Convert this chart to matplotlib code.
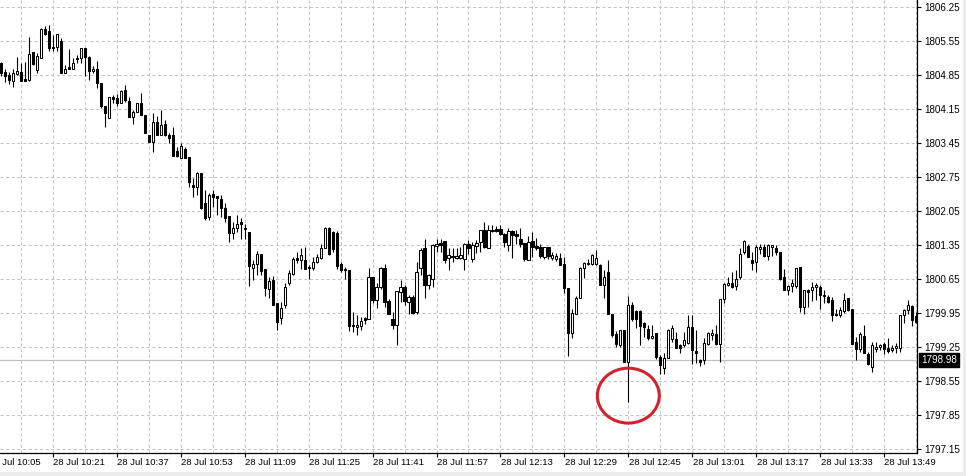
import matplotlib
matplotlib.use("Agg")
import matplotlib.pyplot as plt
from matplotlib.patches import Ellipse, Rectangle
import numpy as np

plt.rcParams['font.family'] = ['Liberation Sans', 'DejaVu Sans']

# ---------------- data (1-minute candles, 28 Jul, starting 10:08) ----------------
start_time = "10:08"

opens = [
    1805.09, 1804.91, 1804.85, 1804.73, 1804.86, 1804.90, 1804.76, 1804.74, 1805.31, 1804.96,
    1805.19, 1805.79, 1805.76, 1805.42, 1805.43, 1805.55, 1804.88, 1805.01, 1804.98, 1805.19,
    1805.19, 1805.40, 1805.22, 1804.93, 1804.98, 1804.68, 1804.21, 1803.96, 1804.40, 1804.38,
    1804.27, 1804.54, 1804.31, 1803.99, 1804.08, 1804.27, 1804.02, 1803.61, 1803.47, 1803.87,
    1803.61, 1803.84, 1803.61, 1803.61, 1803.28, 1803.14, 1803.32, 1803.16, 1802.59, 1802.55,
    1802.83, 1802.22, 1801.93, 1802.40, 1802.36, 1802.29, 1802.12, 1801.94, 1801.59, 1801.69,
    1801.83, 1801.70, 1801.61, 1800.87, 1800.95, 1801.17, 1800.85, 1800.45, 1800.63, 1800.15,
    1799.84, 1800.11, 1800.57, 1800.76, 1801.08, 1801.04, 1801.04, 1800.90, 1800.88, 1800.99,
    1801.08, 1801.28, 1801.70, 1801.62, 1801.60, 1800.95, 1800.86, 1800.83, 1799.71, 1799.67,
    1799.68, 1799.85, 1799.82, 1800.69, 1800.21, 1800.49, 1800.88, 1800.19, 1799.83, 1799.71,
    1800.38, 1800.49, 1800.17, 1800.28, 1799.97, 1800.87, 1801.28, 1800.52, 1800.66, 1801.33,
    1801.39, 1801.43, 1801.08, 1801.13, 1801.08, 1801.08, 1801.07, 1801.38, 1801.06, 1801.33,
    1801.41, 1801.66, 1801.29, 1801.63, 1801.68, 1801.68, 1801.57, 1801.34, 1801.63, 1801.57,
    1801.48, 1801.40, 1801.04, 1801.43, 1801.33, 1801.31, 1801.10, 1801.31, 1801.08, 1801.06,
    1801.09, 1800.95, 1800.47, 1799.53, 1799.94, 1800.25, 1800.88, 1800.97, 1800.95, 1800.95,
    1800.93, 1800.52, 1800.80, 1799.92, 1799.51, 1799.30, 1799.60, 1798.94, 1800.12, 1799.99,
    1799.99, 1799.75, 1799.63, 1799.43, 1799.53, 1799.05, 1798.81, 1799.03, 1799.41, 1799.41,
    1799.29, 1799.29, 1799.34, 1799.66, 1799.17, 1798.99, 1798.98, 1799.32, 1799.49, 1799.51,
    1799.31, 1800.23, 1800.52, 1800.56, 1800.50, 1800.69, 1801.21, 1801.33, 1801.05, 1801.00,
    1801.27, 1801.31, 1801.12, 1801.31, 1801.28, 1801.21, 1800.69, 1800.43, 1800.50, 1800.50,
    1800.89, 1800.08, 1800.43, 1800.42, 1800.48, 1800.49, 1800.32, 1800.28, 1800.22, 1799.90,
    1799.91, 1799.99, 1800.25, 1800.04, 1799.36, 1799.20, 1799.47, 1799.10, 1798.83, 1799.20,
    1799.25, 1799.31, 1799.22, 1799.19, 1799.24, 1799.24, 1799.90, 1800.01, 1800.09, 1799.88,
]
highs = [
    1805.11, 1804.98, 1804.91, 1804.98, 1805.21, 1805.09, 1805.12, 1805.62, 1805.31, 1805.29,
    1805.81, 1805.86, 1805.88, 1805.66, 1805.69, 1805.60, 1805.05, 1805.38, 1805.19, 1805.26,
    1805.41, 1805.41, 1805.24, 1805.03, 1805.13, 1804.68, 1804.21, 1804.40, 1804.43, 1804.45,
    1804.54, 1804.64, 1804.40, 1804.13, 1804.27, 1804.48, 1804.02, 1803.61, 1804.06, 1804.00,
    1804.13, 1803.92, 1803.65, 1803.78, 1803.37, 1803.44, 1803.37, 1803.16, 1802.72, 1802.86,
    1802.83, 1802.48, 1802.41, 1802.48, 1802.36, 1802.38, 1802.22, 1801.94, 1801.83, 1801.96,
    1801.90, 1801.79, 1801.61, 1801.04, 1801.22, 1801.17, 1800.85, 1800.69, 1800.71, 1800.15,
    1800.17, 1800.56, 1800.83, 1801.10, 1801.21, 1801.29, 1801.30, 1800.93, 1801.10, 1801.17,
    1801.38, 1801.72, 1801.72, 1801.63, 1801.63, 1800.99, 1800.90, 1800.83, 1799.97, 1799.90,
    1799.87, 1799.86, 1800.88, 1800.69, 1800.56, 1800.90, 1800.95, 1800.23, 1799.97, 1800.40,
    1800.63, 1800.52, 1800.32, 1800.32, 1801.00, 1801.29, 1801.48, 1800.76, 1801.38, 1801.47,
    1801.47, 1801.43, 1801.28, 1801.28, 1801.29, 1801.30, 1801.40, 1801.45, 1801.41, 1801.45,
    1801.66, 1801.83, 1801.77, 1801.76, 1801.75, 1801.76, 1801.59, 1801.70, 1801.66, 1801.65,
    1801.69, 1801.40, 1801.54, 1801.61, 1801.50, 1801.36, 1801.31, 1801.31, 1801.21, 1801.18,
    1801.18, 1801.10, 1800.47, 1800.04, 1800.29, 1800.90, 1801.00, 1801.07, 1801.16, 1801.24,
    1800.96, 1800.83, 1801.04, 1799.92, 1799.57, 1799.60, 1799.60, 1800.30, 1800.17, 1800.01,
    1800.01, 1799.77, 1799.70, 1799.70, 1799.53, 1799.08, 1799.12, 1799.62, 1799.70, 1799.56,
    1799.32, 1799.56, 1799.90, 1799.90, 1799.60, 1799.01, 1799.44, 1799.56, 1799.63, 1799.70,
    1800.23, 1800.56, 1800.69, 1800.80, 1800.83, 1801.28, 1801.45, 1801.38, 1801.21, 1801.35,
    1801.38, 1801.36, 1801.37, 1801.35, 1801.35, 1801.21, 1800.86, 1800.52, 1800.64, 1800.87,
    1800.89, 1800.42, 1800.45, 1800.59, 1800.57, 1800.52, 1800.42, 1800.32, 1800.28, 1800.04,
    1800.08, 1800.37, 1800.25, 1800.04, 1799.46, 1799.56, 1799.70, 1799.14, 1799.36, 1799.36,
    1799.32, 1799.35, 1799.44, 1799.29, 1799.33, 1799.91, 1800.03, 1800.22, 1800.12, 1799.97,
]
lows = [
    1804.83, 1804.71, 1804.67, 1804.61, 1804.85, 1804.73, 1804.73, 1804.73, 1805.05, 1804.89,
    1805.19, 1805.68, 1805.35, 1805.35, 1805.35, 1804.88, 1804.88, 1804.98, 1804.98, 1805.09,
    1805.09, 1804.83, 1804.74, 1804.88, 1804.57, 1804.16, 1803.78, 1803.96, 1804.27, 1804.21,
    1804.27, 1804.30, 1803.98, 1803.84, 1804.08, 1804.02, 1803.65, 1803.46, 1803.27, 1803.61,
    1803.61, 1803.59, 1803.44, 1803.18, 1803.16, 1803.13, 1803.13, 1802.55, 1802.34, 1802.38,
    1802.10, 1801.86, 1801.86, 1802.13, 1801.96, 1801.93, 1801.83, 1801.42, 1801.48, 1801.61,
    1801.48, 1801.48, 1800.51, 1800.63, 1800.74, 1800.73, 1800.30, 1800.26, 1800.12, 1799.60,
    1799.73, 1800.06, 1800.52, 1800.73, 1800.97, 1800.86, 1800.85, 1800.65, 1800.83, 1800.97,
    1801.07, 1801.28, 1801.15, 1801.21, 1800.86, 1800.80, 1800.66, 1799.58, 1799.55, 1799.49,
    1799.60, 1799.72, 1799.82, 1800.15, 1800.06, 1800.44, 1800.07, 1799.92, 1799.63, 1799.29,
    1800.17, 1800.12, 1799.94, 1799.94, 1799.92, 1800.74, 1800.25, 1800.44, 1800.49, 1801.20,
    1801.21, 1800.98, 1800.83, 1801.00, 1801.07, 1801.07, 1800.83, 1801.17, 1801.00, 1801.18,
    1801.20, 1801.29, 1801.29, 1801.61, 1801.61, 1801.55, 1801.31, 1801.22, 1801.08, 1801.36,
    1801.31, 1801.02, 1801.04, 1801.10, 1801.24, 1801.08, 1801.06, 1801.07, 1801.04, 1801.02,
    1800.94, 1800.37, 1799.07, 1799.43, 1799.94, 1800.25, 1800.67, 1800.93, 1800.93, 1800.93,
    1800.52, 1800.25, 1799.92, 1799.46, 1799.26, 1799.26, 1798.94, 1798.12, 1799.78, 1799.64,
    1799.30, 1799.46, 1799.39, 1799.41, 1799.01, 1798.70, 1798.70, 1799.03, 1799.35, 1799.22,
    1799.13, 1799.25, 1799.32, 1798.91, 1798.92, 1798.87, 1798.91, 1799.29, 1799.39, 1799.29,
    1798.94, 1800.15, 1800.50, 1800.46, 1800.42, 1800.66, 1801.16, 1801.10, 1800.84, 1800.80,
    1801.17, 1801.10, 1801.04, 1801.12, 1801.14, 1800.63, 1800.42, 1800.32, 1800.38, 1800.47,
    1799.97, 1799.94, 1800.08, 1800.20, 1800.22, 1800.04, 1800.16, 1800.15, 1799.79, 1799.89,
    1799.86, 1799.95, 1799.99, 1799.31, 1798.98, 1799.15, 1799.12, 1798.89, 1798.74, 1799.15,
    1799.18, 1799.10, 1799.13, 1799.14, 1799.13, 1799.15, 1799.75, 1799.94, 1799.68, 1799.75,
]
closes = [
    1804.89, 1804.83, 1804.74, 1804.89, 1804.93, 1804.73, 1804.73, 1805.28, 1805.07, 1805.24,
    1805.79, 1805.70, 1805.40, 1805.41, 1805.69, 1804.88, 1804.98, 1804.98, 1805.10, 1805.17,
    1805.40, 1805.21, 1804.93, 1804.98, 1804.68, 1804.20, 1804.06, 1804.39, 1804.35, 1804.27,
    1804.52, 1804.33, 1803.98, 1804.08, 1804.27, 1804.02, 1803.65, 1803.47, 1803.87, 1803.61,
    1803.82, 1803.61, 1803.56, 1803.18, 1803.18, 1803.38, 1803.13, 1802.65, 1802.55, 1802.83,
    1802.11, 1801.90, 1802.38, 1802.34, 1802.31, 1802.11, 1801.90, 1801.59, 1801.69, 1801.79,
    1801.79, 1801.67, 1800.92, 1800.95, 1801.17, 1800.82, 1800.47, 1800.60, 1800.12, 1799.77,
    1800.06, 1800.49, 1800.78, 1801.07, 1801.04, 1801.15, 1800.85, 1800.87, 1801.00, 1801.10,
    1801.29, 1801.70, 1801.17, 1801.26, 1800.92, 1800.83, 1800.83, 1799.69, 1799.68, 1799.71,
    1799.78, 1799.80, 1800.69, 1800.21, 1800.49, 1800.88, 1800.18, 1799.92, 1799.71, 1800.40,
    1800.49, 1800.19, 1800.28, 1799.96, 1800.80, 1801.24, 1800.52, 1800.73, 1801.35, 1801.38,
    1801.35, 1801.04, 1801.14, 1801.10, 1801.13, 1801.15, 1801.38, 1801.29, 1801.35, 1801.40,
    1801.66, 1801.31, 1801.66, 1801.66, 1801.63, 1801.57, 1801.42, 1801.63, 1801.55, 1801.54,
    1801.36, 1801.06, 1801.42, 1801.31, 1801.29, 1801.13, 1801.31, 1801.13, 1801.14, 1801.13,
    1800.94, 1800.47, 1799.53, 1799.96, 1800.25, 1800.88, 1800.97, 1800.95, 1801.14, 1801.08,
    1800.52, 1800.69, 1799.92, 1799.49, 1799.32, 1799.60, 1798.94, 1800.12, 1799.82, 1799.82,
    1799.69, 1799.66, 1799.43, 1799.48, 1799.05, 1798.89, 1799.03, 1799.60, 1799.64, 1799.23,
    1799.23, 1799.39, 1799.66, 1799.18, 1799.13, 1798.94, 1799.33, 1799.53, 1799.54, 1799.31,
    1800.23, 1800.54, 1800.57, 1800.49, 1800.66, 1801.17, 1801.43, 1801.10, 1800.97, 1801.30,
    1801.30, 1801.12, 1801.35, 1801.35, 1801.21, 1800.66, 1800.43, 1800.50, 1800.56, 1800.87,
    1800.08, 1800.42, 1800.38, 1800.48, 1800.52, 1800.32, 1800.30, 1800.18, 1799.90, 1799.92,
    1800.01, 1800.22, 1800.02, 1799.32, 1799.20, 1799.51, 1799.12, 1798.91, 1799.29, 1799.25,
    1799.29, 1799.20, 1799.17, 1799.24, 1799.28, 1799.91, 1800.01, 1800.11, 1799.80, 1799.77,
]

time_labels = ["28 Jul 10:05", "28 Jul 10:21", "28 Jul 10:37", "28 Jul 10:53", "28 Jul 11:09",
               "28 Jul 11:25", "28 Jul 11:41", "28 Jul 11:57", "28 Jul 12:13", "28 Jul 12:29",
               "28 Jul 12:45", "28 Jul 13:01", "28 Jul 13:17", "28 Jul 13:33", "28 Jul 13:49"]
price_ticks = ["1797.15", "1797.85", "1798.55", "1799.25", "1799.95", "1800.65", "1801.35",
               "1802.05", "1802.75", "1803.45", "1804.15", "1804.85", "1805.55", "1806.25"]
current_price = 1798.98
marked_time = "12:45"

# ---------------- helpers ----------------
def to_min(s):
    hh, mm = s.split(":")
    return int(hh) * 60 + int(mm)

t0 = to_min(start_time)
n = len(opens)
x = np.arange(n)
o = np.array(opens); c = np.array(closes)
h = np.maximum.reduce([np.array(highs), o, c])
l = np.minimum.reduce([np.array(lows), o, c])

label_pos = [to_min(s.split()[-1]) - t0 for s in time_labels]
tick_vals = [float(v) for v in price_ticks]

# ---------------- figure ----------------
W, H = 966, 476
fig = plt.figure(figsize=(W / 100, H / 100), dpi=100)
fig.patch.set_facecolor("white")
ax = fig.add_axes([0, 23 / H, 917 / W, 453 / H])
ax.set_facecolor("white")

ax.set_xlim(-0.25, n - 0.75)
ax.set_ylim(1797.07, 1806.39)

# grid
grid_kw = dict(color="#c4c4c4", lw=0.75, dashes=(3, 2.4), zorder=0)
for v in tick_vals:
    ax.axhline(v, **grid_kw)
for gx in range(label_pos[0], n, 8):
    if gx >= 0:
        ax.axvline(gx, **grid_kw)

# current price line
ax.axhline(current_price, color="#c0c0c0", lw=0.9, zorder=1)

# candles
ax.vlines(x, l, h, color="black", lw=0.8, zorder=2)
bull = c >= o
body_bottom = np.minimum(o, c)
body_h = np.maximum(np.abs(c - o), 0.012)
ax.bar(x[bull], body_h[bull], bottom=body_bottom[bull], width=0.55,
       facecolor="white", edgecolor="black", lw=0.75, zorder=3)
ax.bar(x[~bull], body_h[~bull], bottom=body_bottom[~bull], width=0.55,
       facecolor="black", edgecolor="black", lw=0.75, zorder=3)

# red marker ellipse around the spike
mi = to_min(marked_time) - t0
ax.add_patch(Ellipse((mi, 1798.25), width=15.5, height=1.13, fill=False,
                     edgecolor="#d3222d", lw=2.2, zorder=5, clip_on=False))

# spines
for s in ["top", "left"]:
    ax.spines[s].set_visible(False)
for s in ["right", "bottom"]:
    ax.spines[s].set_color("black")
    ax.spines[s].set_linewidth(0.9)

# y axis on right
ax.yaxis.tick_right()
ax.set_yticks(tick_vals)
ax.set_yticklabels(price_ticks)
ax.tick_params(axis="y", direction="out", length=3, width=0.8, pad=2,
               labelsize=7.1, colors="black")

# x axis ticks + left-aligned labels
ax.set_xticks([p for p in label_pos if p >= 0])
ax.set_xticklabels([])
ax.tick_params(axis="x", direction="out", length=3, width=0.8)
for p, s in zip(label_pos, time_labels):
    ax.annotate(s, xy=(p, 0), xycoords=("data", "axes fraction"),
                xytext=(0.3, -3.4), textcoords="offset points",
                ha="left", va="top", fontsize=6.8, color="black",
                annotation_clip=False)

# current price label box
ax.annotate(f"{current_price:.2f}", xy=(1, current_price),
            xycoords=("axes fraction", "data"), xytext=(3, 0),
            textcoords="offset points", ha="left", va="center",
            fontsize=7.1, color="white",
            bbox=dict(boxstyle="square,pad=0.18", facecolor="black", edgecolor="black"),
            annotation_clip=False, zorder=6)

# window frame (light gray border at bottom/right)
fig.patches.append(Rectangle((0, 0), 1, 4 / H, transform=fig.transFigure,
                             facecolor="#ececec", edgecolor="none", zorder=0))
fig.patches.append(Rectangle((963 / W, 0), 3 / W, 1, transform=fig.transFigure,
                             facecolor="#ececec", edgecolor="none", zorder=0))

fig.savefig("out.png", dpi=100, facecolor="white")
